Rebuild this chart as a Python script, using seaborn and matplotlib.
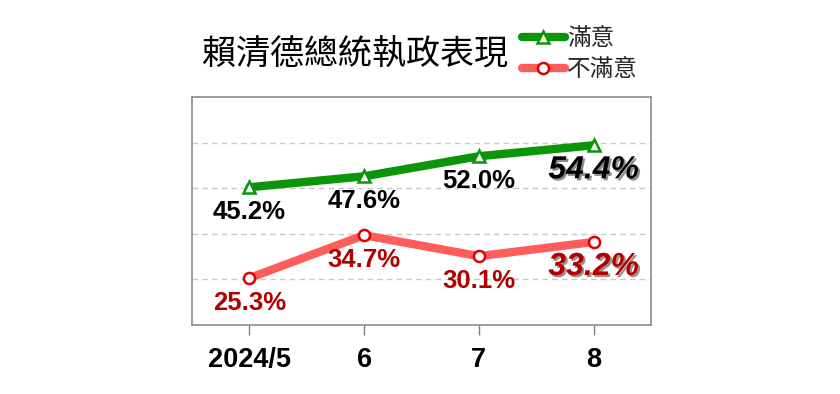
import matplotlib
matplotlib.use("Agg")
import matplotlib.pyplot as plt
import matplotlib.patheffects as pe
import pandas as pd
import seaborn as sns

# data
months = ["2024/5", "6", "7", "8"]
satisfied = [45.2, 47.6, 52.0, 54.4]
dissatisfied = [25.3, 34.7, 30.1, 33.2]
series_names = ["滿意", "不滿意"]
title = "賴清德總統執政表現"

GREEN = "#0A950A"
RED_LINE = "#FF5C5C"
RED_EDGE = "#E00000"
RED_TEXT = "#B00000"

sns.set_theme(style="white")
plt.rcParams["font.family"] = ["Noto Sans CJK TC", "DejaVu Sans"]

df = pd.DataFrame({
    "x": list(range(len(months))) * 2,
    "value": satisfied + dissatisfied,
    "series": [series_names[0]] * len(months) + [series_names[1]] * len(months),
})

fig = plt.figure(figsize=(8.4, 3.94), dpi=100)
ax = fig.add_axes([0.2286, 0.175, 0.5464, 0.579])

sns.lineplot(data=df[df["series"] == series_names[0]], x="x", y="value",
             color=GREEN, lw=6, marker="^", markersize=9,
             markerfacecolor="white", markeredgecolor=GREEN, markeredgewidth=1.8,
             label=series_names[0], ax=ax)
sns.lineplot(data=df[df["series"] == series_names[1]], x="x", y="value",
             color=RED_LINE, lw=6, marker="o", markersize=8,
             markerfacecolor="white", markeredgecolor=RED_EDGE, markeredgewidth=1.8,
             label=series_names[1], ax=ax)

ax.set_xlim(-0.5, 3.5)
ax.set_ylim(15, 65)
ax.set_yticks([25, 35, 45, 55])
ax.yaxis.grid(True, ls=(0, (4, 3)), color="#C8C8C8", lw=1)
ax.tick_params(axis="y", left=False, labelleft=False)
ax.set_xticks(range(len(months)))
ax.set_xticklabels(months, fontsize=19.5, fontweight="bold", family=["Liberation Sans"],
                   color="black")
ax.tick_params(axis="x", bottom=True, direction="out", length=7, width=1,
               color="#808080", pad=9)
ax.set_xlabel("")
ax.set_ylabel("")
for sp in ax.spines.values():
    sp.set_color("#8C8C8C")
    sp.set_linewidth(1.2)

# value labels
for vals, col in [(satisfied, "black"), (dissatisfied, RED_TEXT)]:
    for i, v in enumerate(vals):
        last = i == len(vals) - 1
        t = ax.annotate(f"{v:.1f}%", (i, v), xytext=(0, -18), textcoords="offset points",
                        ha="center", va="center", color=col,
                        fontsize=23 if last else 18.5, fontweight="bold",
                        fontstyle="italic" if last else "normal",
                        family=["Liberation Sans"])
        if last:
            t.set_path_effects([pe.SimplePatchShadow(offset=(1.5, -1.5), alpha=0.45),
                                pe.Normal()])

fig.text(355 / 840, (394 - 55) / 394, title, ha="center", va="center", fontsize=24.5,
         color="black")

ax.get_legend().remove()
handles, labels = ax.get_legend_handles_labels()
fig.legend(handles, labels, loc="center left", bbox_to_anchor=(522 / 840, (394 - 54) / 394),
           frameon=False, fontsize=17, handlelength=1.8, handletextpad=0.1,
           labelspacing=0.33, borderpad=0, borderaxespad=0)

fig.savefig("out.png", dpi=100)
